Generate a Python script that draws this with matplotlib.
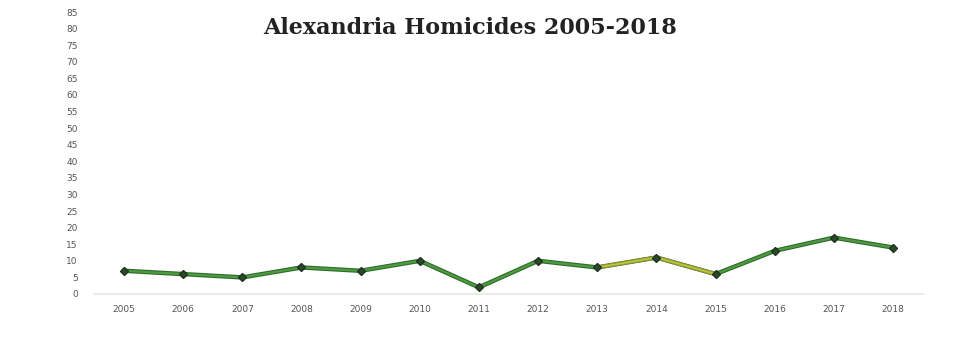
import matplotlib
matplotlib.use("Agg")
import matplotlib.pyplot as plt

years = ["2005", "2006", "2007", "2008", "2009", "2010", "2011",
         "2012", "2013", "2014", "2015", "2016", "2017", "2018"]
homicides = [7, 6, 5, 8, 7, 10, 2, 10, 8, 11, 6, 13, 17, 14]

fig = plt.figure(figsize=(9.8, 3.54), dpi=100)
ax = fig.add_axes([0.0964, 0.1695, 0.845, 0.7966])

x = list(range(len(years)))
# main line
ax.plot(x, homicides, color="#2f6b2f", lw=3.2, solid_joinstyle="round", zorder=2)
ax.plot(x, homicides, color="#4e9a3e", lw=1.6, solid_joinstyle="round", zorder=3)
# faded yellowish stretch 2013-2015
ax.plot(x[8:11], homicides[8:11], color="#8f9a30", lw=2.8, zorder=4)
ax.plot(x[8:11], homicides[8:11], color="#c2c43c", lw=1.2, zorder=4)
ax.plot(x, homicides, ls="none", marker="D", ms=4.5, color="#2a4a2a",
        markeredgecolor="#1f331f", zorder=5)

ax.set_xlim(-0.5, len(years) - 0.5)
ax.set_ylim(0, 85)
ax.set_yticks(range(0, 86, 5))
ax.set_xticks(x)
ax.set_xticklabels(years)
ax.tick_params(axis="both", length=0, labelsize=6.5, colors="#555555")
ax.tick_params(axis="y", pad=12)
ax.tick_params(axis="x", pad=8)
for s in ["top", "right", "left"]:
    ax.spines[s].set_visible(False)
ax.spines["bottom"].set_color("#e6e6e6")
ax.spines["bottom"].set_linewidth(1.2)

fig.text(0.48, 0.92, "Alexandria Homicides 2005-2018", ha="center", va="center",
         fontsize=16, fontweight="bold", family="DejaVu Serif", color="#222222")

fig.savefig("out.png", dpi=100)
